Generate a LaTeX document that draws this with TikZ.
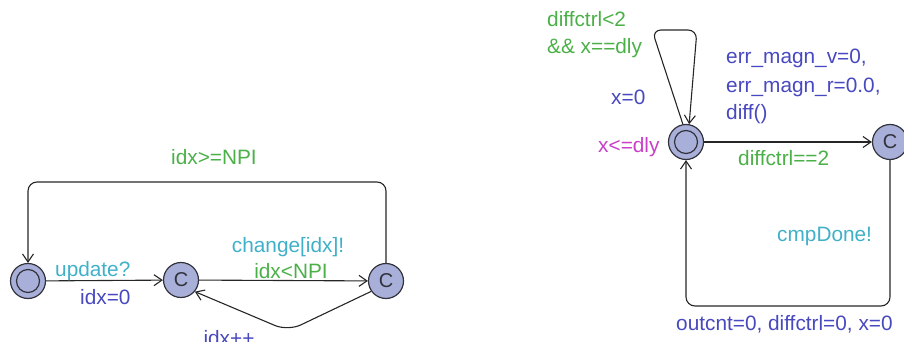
\documentclass[tikz,border=0pt]{standalone}
\usepackage{fontspec}
\setmainfont{Liberation Sans}
\usetikzlibrary{arrows.meta}
\definecolor{locfill}{RGB}{168,176,218}
\definecolor{locdraw}{RGB}{50,50,60}
\definecolor{synccol}{RGB}{64,176,200}
\definecolor{guardcol}{RGB}{76,176,72}
\definecolor{updcol}{RGB}{72,72,192}
\definecolor{invcol}{RGB}{200,64,200}
\tikzset{
  loc/.style={circle, draw=locdraw, line width=1.2pt, fill=locfill, minimum size=35pt, inner sep=0pt, font=\fontsize{20}{22}\selectfont, text=locdraw},
  lbl/.style={inner sep=0pt, font=\fontsize{20.8}{28}\selectfont},
  sync/.style={lbl, text=synccol},
  guard/.style={lbl, text=guardcol},
  upd/.style={lbl, text=updcol},
  inv/.style={lbl, text=invcol},
  edge/.style={draw=black!85, line width=1.1pt, rounded corners=9pt, -{Straight Barb[length=8pt,width=11pt,line width=1.1pt]}}
}
\begin{document}
\begin{tikzpicture}[x=1pt,y=-1pt]
\useasboundingbox (0,0) rectangle (904,342);
\clip (0,0) rectangle (904,342);
% left automaton
\node[loc] (L0) at (28,281) {};
\draw[locdraw, line width=1.2pt] (L0.center) circle (11.5pt);
\node[loc] (L1) at (181,280) {C};
\node[loc] (L2) at (386,281) {C};
\coordinate (t1) at (386,182);
\coordinate (t2) at (28,182);
\coordinate (b1) at (288,331);
\draw[edge] (L2.north) -- (t1) -- (t2) -- (L0.north);
\draw[edge] (L0) -- (L1);
\draw[edge] (L1) -- (L2);
\draw[edge, rounded corners=14pt] (L2.-145) -- (b1) -- (L1.-40);
\node[guard] (g1) at (214,157) {idx>=NPI};
\node[sync, anchor=west] (s1) at (55,271) {update?};
\node[upd, anchor=west] (u1) at (80,297) {idx=0};
\node[sync] (s2) at (288,247) {change[idx]!};
\node[guard] (g2) at (291,271) {idx<NPI};
\node[upd] (u2) at (229,338) {idx++};
% right automaton
\node[loc] (R0) at (686,142) {};
\draw[locdraw, line width=1.2pt] (R0.center) circle (11.5pt);
\node[loc] (R1) at (890,142) {C};
\coordinate (p1) at (652,30);
\coordinate (p2) at (697,30);
\draw[edge] (R0.100) -- (p1) -- (p2) -- (R0.80);
\draw[edge] (R0) -- (R1);
\coordinate (q1) at (890,306);
\coordinate (q2) at (686,306);
\draw[edge] (R1.south) -- (q1) -- (q2) -- (R0.south);
\node[guard, anchor=west] (g3) at (547,19) {diffctrl<2};
\node[guard, anchor=west] (g4) at (547,48) {\&\& x==dly};
\node[upd, anchor=west] (u3) at (611,97) {x=0};
\node[inv, anchor=west] (i1) at (598,147) {x<=dly};
\node[upd, anchor=west] (u4) at (726,58) {err\_magn\_v=0,};
\node[upd, anchor=west] (u5) at (726,87) {err\_magn\_r=0.0,};
\node[upd, anchor=west] (u6) at (726,114) {diff()};
\node[guard, anchor=west] (g5) at (738,158) {diffctrl==2};
\node[sync, anchor=west] (s3) at (777,237) {cmpDone!};
\node[upd, anchor=west] (u7) at (676,324) {outcnt=0, diffctrl=0, x=0};
\end{tikzpicture}
\end{document}
